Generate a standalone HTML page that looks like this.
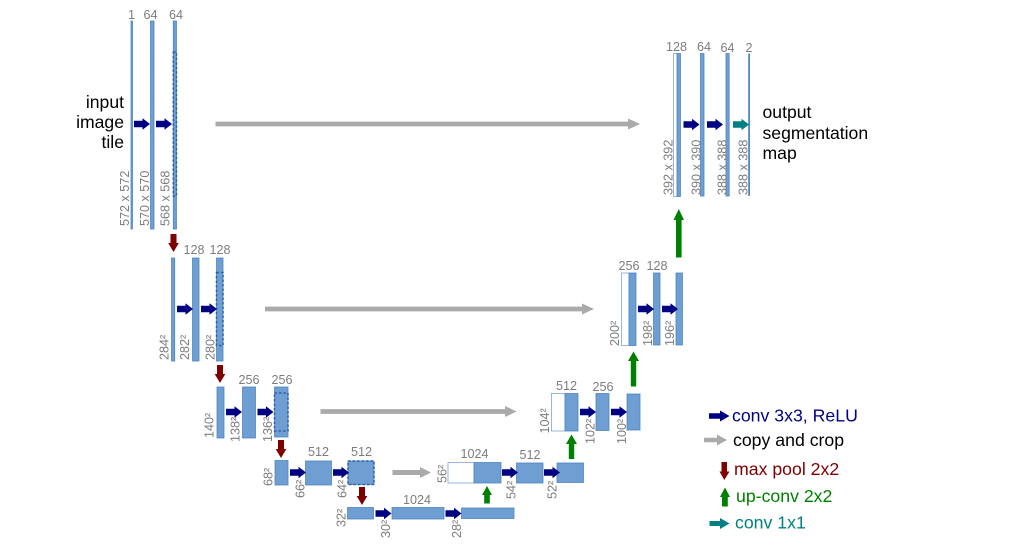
<!DOCTYPE html>
<html><head><meta charset="utf-8"><style>
html,body{margin:0;padding:0;background:#fff;width:1024px;height:560px;overflow:hidden}
svg{display:block}
text{font-family:"Liberation Sans",sans-serif}
.b{fill:#6f9fd2;stroke:#4f85c4;stroke-width:.8}
.w{fill:#fff;stroke:#7fa3d4;stroke-width:.8}
.d{fill:none;stroke:#2a62a8;stroke-width:1.5;stroke-dasharray:2.5 2}
.g{fill:#7d7d7d;font-size:12.6px}
.t{fill:#000;font-size:17.6px}
.l{font-size:17.7px}
</style></head><body>
<svg width="1024" height="560" viewBox="0 0 1024 560" xmlns="http://www.w3.org/2000/svg">
<defs>
<path id="r" d="M0-3.200H8.500V-5.800L16 0 8.500 5.800V3.200H0Z" fill="#000080"/>
<path id="teal" d="M0-3.200H8.500V-5.800L16 0 8.500 5.800V3.200H0Z" fill="#008080"/>
<path id="dn" d="M-3 0H3V9H5.300L0 18-5.300 9H-3Z" fill="#800000"/>
</defs>

<!-- blocks -->
<g>
<rect class="b" x="131" y="21" width="1.500" height="208"/>
<rect class="b" x="150.500" y="21" width="3.500" height="208"/>
<rect class="b" x="173.300" y="21" width="3.200" height="208"/>
<rect class="d" x="173.300" y="52" width="3.200" height="144"/>

<rect class="b" x="171.500" y="258" width="3.200" height="103"/>
<rect class="b" x="192.500" y="258" width="6.500" height="103"/>
<rect class="b" x="216.500" y="258" width="6.500" height="103"/>
<rect class="d" x="216.500" y="272.500" width="6.500" height="73"/>

<rect class="b" x="217" y="387" width="7" height="51"/>
<rect class="b" x="242.500" y="387" width="13" height="51"/>
<rect class="b" x="274.500" y="387" width="13.500" height="50"/>
<rect class="d" x="274.500" y="393" width="13.500" height="38"/>

<rect class="b" x="275" y="460.500" width="13" height="24.500"/>
<rect class="b" x="305.500" y="461" width="26" height="24"/>
<rect class="b" x="348" y="461" width="26" height="23.500"/>
<rect class="d" x="348" y="461" width="26" height="23.500"/>

<rect class="b" x="347.500" y="507.500" width="26" height="11.500"/>
<rect class="b" x="392" y="507.500" width="52" height="11.500"/>
<rect class="b" x="461.500" y="508" width="52.500" height="10.500"/>

<rect class="w" x="448" y="462.500" width="26" height="20.500"/>
<rect class="b" x="474" y="462.500" width="27" height="20.500"/>
<rect class="b" x="516.500" y="463" width="26.500" height="20"/>
<rect class="b" x="557" y="463" width="26.500" height="19.500"/>

<rect class="w" x="551.500" y="393.500" width="13.500" height="37.500"/>
<rect class="b" x="565" y="393.500" width="13" height="37.500"/>
<rect class="b" x="596" y="393.500" width="13" height="37"/>
<rect class="b" x="627" y="394" width="13" height="36"/>

<rect class="w" x="621.500" y="273" width="7.500" height="72.500"/>
<rect class="b" x="629" y="273" width="7" height="72.500"/>
<rect class="b" x="653.500" y="273" width="6.500" height="72"/>
<rect class="b" x="676" y="273" width="6.500" height="72"/>

<rect class="w" x="673.500" y="53.500" width="3.500" height="143"/>
<rect class="b" x="677" y="53.500" width="3.500" height="143"/>
<rect class="b" x="700.500" y="53.500" width="3.500" height="142.500"/>
<rect class="b" x="726" y="53.500" width="3.200" height="142.500"/>
<rect class="b" x="748.600" y="54" width="1" height="141.500"/>
</g>

<!-- blue arrows -->
<use href="#r" x="134" y="124"/><use href="#r" x="156" y="124"/>
<use href="#r" x="177" y="309"/><use href="#r" x="201" y="309"/>
<use href="#r" x="226" y="412"/><use href="#r" x="257.500" y="412"/>
<use href="#r" x="290" y="472.500"/><use href="#r" x="333" y="472.500"/>
<use href="#r" x="375.500" y="513.500"/><use href="#r" x="445.500" y="513.500"/>
<use href="#r" x="502" y="472.500"/><use href="#r" x="544" y="472.500"/>
<use href="#r" x="580" y="412"/><use href="#r" x="611" y="412"/>
<use href="#r" x="638" y="309"/><use href="#r" x="662" y="309"/>
<use href="#r" x="683.500" y="124.500"/><use href="#r" x="707" y="124.500"/>
<use href="#teal" x="733" y="124.500"/>

<!-- red -->
<use href="#dn" x="173.500" y="234"/>
<use href="#dn" x="220" y="365"/>
<use href="#dn" x="281" y="440"/>
<use href="#dn" x="362" y="487"/>

<!-- green -->
<path d="M484.200 503.500V495H482L487 486 492 495H489.800V503.500Z" fill="#008000"/>
<path d="M568.800 459V444H566L571.500 434.500 577 444H574.200V459Z" fill="#008000"/>
<path d="M630.800 386.500V361H628L633.500 351.500 639 361H636.200V386.500Z" fill="#008000"/>
<path d="M676 257.500V220H673.500L678.800 209 684 220H681.600V257.500Z" fill="#008000"/>

<!-- gray -->
<path d="M215.500 121.600H628V118.500L640 124 628 129.500V126.400H215.500Z" fill="#aaa"/>
<path d="M265 306.600H582V303.500L594 309 582 314.500V311.400H265Z" fill="#aaa"/>
<path d="M320.500 409.100H505V406L516.500 411.500 505 417V413.900H320.500Z" fill="#aaa"/>
<path d="M392.500 470H420V467L431 472.500 420 478V475H392.500Z" fill="#aaa"/>

<!-- top numbers -->
<g class="g" text-anchor="middle">
<text x="131.500" y="19">1</text><text x="150.500" y="19">64</text><text x="176" y="19">64</text>
<text x="194" y="254">128</text><text x="220" y="254">128</text>
<text x="249" y="384">256</text><text x="282" y="384">256</text>
<text x="318.500" y="456">512</text><text x="361.500" y="456">512</text>
<text x="417" y="504">1024</text>
<text x="474.500" y="458">1024</text><text x="530" y="459">512</text>
<text x="566.500" y="390">512</text><text x="603" y="391">256</text>
<text x="629" y="270">256</text><text x="657" y="270">128</text>
<text x="676.500" y="51">128</text><text x="704" y="51">64</text><text x="727.500" y="52">64</text><text x="749" y="52">2</text>
</g>

<!-- side labels -->
<g class="g">
<text transform="translate(129,226) rotate(-90)">572 x 572</text>
<text transform="translate(149,226) rotate(-90)">570 x 570</text>
<text transform="translate(169.500,226) rotate(-90)">568 x 568</text>
<text transform="translate(168.500,360) rotate(-90)">284²</text>
<text transform="translate(189,360) rotate(-90)">282²</text>
<text transform="translate(214.500,360) rotate(-90)">280²</text>
<text transform="translate(213.500,438) rotate(-90)">140²</text>
<text transform="translate(239.500,442) rotate(-90)">138²</text>
<text transform="translate(272,442) rotate(-90)">136²</text>
<text transform="translate(272.500,486) rotate(-90)">68²</text>
<text transform="translate(304.500,498) rotate(-90)">66²</text>
<text transform="translate(346.500,498) rotate(-90)">64²</text>
<text transform="translate(345.500,527) rotate(-90)">32²</text>
<text transform="translate(390,538) rotate(-90)">30²</text>
<text transform="translate(461,538) rotate(-90)">28²</text>
<text transform="translate(446.500,483) rotate(-90)">56²</text>
<text transform="translate(515.500,499) rotate(-90)">54²</text>
<text transform="translate(556.500,499) rotate(-90)">52²</text>
<text transform="translate(549,433.500) rotate(-90)">104²</text>
<text transform="translate(594.500,444) rotate(-90)">102²</text>
<text transform="translate(626,444) rotate(-90)">100²</text>
<text transform="translate(619,346) rotate(-90)">200²</text>
<text transform="translate(652,346) rotate(-90)">198²</text>
<text transform="translate(674,346) rotate(-90)">196²</text>
<text transform="translate(672.500,195) rotate(-90)">392 x 392</text>
<text transform="translate(700.500,195) rotate(-90)">390 x 390</text>
<text transform="translate(726.500,195) rotate(-90)">388 x 388</text>
<text transform="translate(747.500,195) rotate(-90)">388 x 388</text>
</g>

<!-- captions -->
<g class="t" text-anchor="end">
<text x="124" y="108">input</text><text x="124" y="128">image</text><text x="124" y="148">tile</text>
</g>
<g class="t">
<text x="762.500" y="118">output</text><text x="762.500" y="139">segmentation</text><text x="762.500" y="159">map</text>
</g>

<!-- legend -->
<path d="M709 413.200H720V410.500L729.500 416 720 421.500V418.800H709Z" fill="#000080"/>
<text class="l" x="732" y="421.500" fill="#000080">conv 3x3, ReLU</text>
<path d="M704 437.800H717V434.500L727 440 717 445.500V442.200H704Z" fill="#aaa"/>
<text class="l" x="733" y="446" fill="#000">copy and crop</text>
<path d="M721.500 462H727V471.500H729.500L724.300 480 719.500 471.500H721.500Z" fill="#800000"/>
<text class="l" x="734" y="475" fill="#800000">max pool 2x2</text>
<path d="M722 506.500V497H720L725 487.500 730 497H727.800V506.500Z" fill="#008000"/>
<text class="l" x="736" y="502" fill="#008000">up-conv 2x2</text>
<path d="M709.500 521H720V518L729.500 523.500 720 529V526H709.500Z" fill="#008080"/>
<text class="l" x="735" y="528.500" fill="#008080">conv 1x1</text>
</svg>
</body></html>
